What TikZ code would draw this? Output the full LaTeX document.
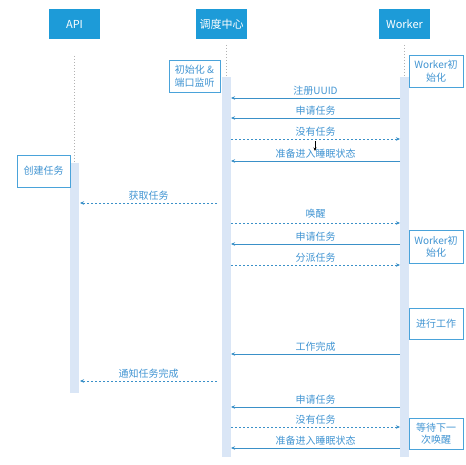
\documentclass[tikz,border=0pt]{standalone}
\usepackage{fontspec}
\setmainfont{Noto Sans CJK SC}
\usetikzlibrary{arrows.meta}
\definecolor{hdr}{HTML}{1D9BD8}
\definecolor{bar}{HTML}{DAE6F6}
\definecolor{ln}{HTML}{3A90C8}
\definecolor{txt}{HTML}{4094D2}
\definecolor{nb}{HTML}{4AA3DA}
\tikzset{
  hdrbox/.style={fill=hdr,text=white,minimum width=51pt,minimum height=30pt,inner sep=0pt,font=\fontsize{11}{13}\selectfont},
  barbox/.style={fill=bar,minimum width=9pt,inner sep=0pt},
  notebox/.style={draw=nb,line width=0.8pt,fill=white,text=txt,inner sep=0pt,align=center,font=\fontsize{10}{12.5}\selectfont},
  life/.style={draw=gray!60,dash pattern=on 1.5pt off 1.5pt,line width=0.4pt},
  smsg/.style={draw=ln,line width=0.9pt,-{Stealth[length=4pt,width=3.5pt]}},
  dmsg/.style={draw=ln,line width=0.5pt,dash pattern=on 2pt off 2pt,-{Stealth[length=4pt,width=3.5pt]}},
  lbl/.style={above,text=txt,inner sep=2pt,font=\fontsize{10}{12}\selectfont}
}
\begin{document}
\begin{tikzpicture}[x=1pt,y=-1pt]
\useasboundingbox (0,0) rectangle (466,465);
% headers
\node[hdrbox] (api) at (74.5,24) {API};
\node[hdrbox] (ctr) at (221.5,24) {调度中心};
\node[hdrbox] (wrk) at (404.5,24) {Worker};
% lifelines
\coordinate (apitop) at (74.5,56);
\coordinate (ctrtop) at (226.5,45);
\coordinate (wrktop) at (404.5,45);
% bars
\node[barbox,minimum height=380pt] (cbar) at (226.5,267) {};
\node[barbox,minimum height=380pt] (wbar) at (404.5,267) {};
\node[barbox,minimum height=230pt] (abar) at (74.5,278) {};
\draw[life] (apitop) -- (abar.north);
\draw[life] (ctrtop) -- (cbar.north);
\draw[life] (wrktop) -- (wbar.north);
% notes
\node[notebox,minimum width=51pt,minimum height=32pt] (n1) at (194.5,76) {初始化 \&\\端口监听};
\node[notebox,minimum width=54pt,minimum height=32pt] (n2) at (436,71) {Worker初\\始化};
\node[notebox,minimum width=53pt,minimum height=32pt] (n3) at (43.5,171) {创建任务};
\node[notebox,minimum width=54pt,minimum height=33pt] (n4) at (436,246.5) {Worker初\\始化};
\node[notebox,minimum width=54pt,minimum height=31pt] (n5) at (436,323.5) {进行工作};
\node[notebox,minimum width=54pt,minimum height=31pt] (n6) at (436,433.5) {等待下一\\次唤醒};
% message end points
\foreach \n/\y in {1/98,2/118,3/139,4/161,6/223,7/244,8/265,9/354,11/407,12/427,13/448}{
  \coordinate (c\n) at (231,\y);
  \coordinate (w\n) at (400,\y);
}
\coordinate (s5) at (217,203); \coordinate (a5) at (80,203);
\coordinate (s10) at (217,381); \coordinate (a10) at (80,381);
% messages
\draw[smsg] (w1) -- node[lbl]{注册UUID} (c1);
\draw[smsg] (w2) -- node[lbl]{申请任务} (c2);
\draw[dmsg] (c3) -- node[lbl]{没有任务} (w3);
\draw[smsg] (w4) -- node[lbl]{准备进入睡眠状态} (c4);
\draw[dmsg] (s5) -- node[lbl]{获取任务} (a5);
\draw[dmsg] (c6) -- node[lbl,yshift=2pt]{唤醒} (w6);
\draw[smsg] (w7) -- node[lbl]{申请任务} (c7);
\draw[dmsg] (c8) -- node[lbl]{分派任务} (w8);
\draw[smsg] (w9) -- node[lbl]{工作完成} (c9);
\draw[dmsg] (s10) -- node[lbl]{通知任务完成} (a10);
\draw[smsg] (w11) -- node[lbl]{申请任务} (c11);
\draw[dmsg] (c12) -- node[lbl]{没有任务} (w12);
\draw[smsg] (w13) -- node[lbl]{准备进入睡眠状态} (c13);
% stray black arrow
\coordinate (k1) at (315,141);
\coordinate (k2) at (315,151);
\draw[black,line width=0.8pt,-{Stealth[length=3.5pt,width=3pt]}] (k1) -- (k2);
\end{tikzpicture}
\end{document}
